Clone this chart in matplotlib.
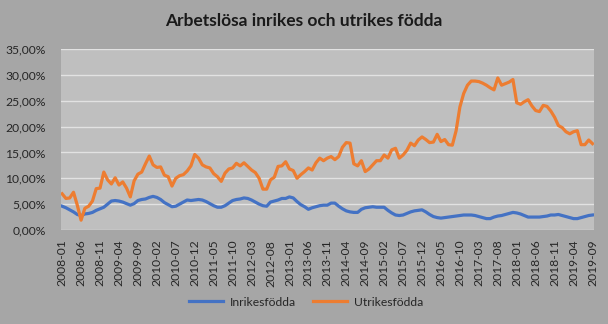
import matplotlib
matplotlib.use("Agg")
import matplotlib.pyplot as plt
import pandas as pd
from matplotlib.ticker import FuncFormatter

# monthly share unemployed (%), 2008-01 .. 2019-09
months = pd.period_range("2008-01", "2019-09", freq="M").strftime("%Y-%m").tolist()

inrikes = [
    4.6, 4.3, 3.9, 3.5, 3.0, 2.8, 3.1, 3.2, 3.4, 3.8, 4.1, 4.4, 5.0, 5.6, 5.7, 5.6, 5.4, 5.1, 4.8, 5.1,
    5.7, 5.9, 6.0, 6.3, 6.5, 6.3, 5.9, 5.3, 4.9, 4.5, 4.6, 5.0, 5.4, 5.8, 5.7, 5.8, 5.9, 5.8, 5.5, 5.1,
    4.7, 4.4, 4.4, 4.7, 5.2, 5.7, 5.9, 6.0, 6.2, 6.1, 5.8, 5.4, 5.0, 4.7, 4.6, 5.4, 5.6, 5.8, 6.1, 6.1,
    6.4, 6.2, 5.5, 4.9, 4.5, 4.0, 4.3, 4.5, 4.7, 4.8, 4.8, 5.2, 5.2, 4.6, 4.1, 3.7, 3.5, 3.4, 3.4, 4.0,
    4.3, 4.4, 4.5, 4.4, 4.4, 4.4, 3.8, 3.3, 2.9, 2.8, 2.9, 3.2, 3.5, 3.7, 3.8, 3.9, 3.5, 3.0, 2.6, 2.4,
    2.3, 2.4, 2.5, 2.6, 2.7, 2.8, 2.9, 2.9, 2.9, 2.8, 2.6, 2.4, 2.2, 2.2, 2.5, 2.7, 2.8, 3.0, 3.2, 3.4,
    3.3, 3.1, 2.8, 2.5, 2.5, 2.5, 2.5, 2.6, 2.7, 2.9, 2.9, 3.0, 2.8, 2.6, 2.4, 2.2, 2.2, 2.4, 2.6, 2.8,
    2.9,
]

utrikes = [
    7.0, 6.1, 6.2, 7.3, 4.8, 1.9, 4.2, 4.6, 5.6, 8.0, 8.1, 11.2, 9.7, 8.9, 10.1, 8.7, 9.3, 8.1, 6.4, 9.5,
    10.8, 11.2, 12.8, 14.3, 12.6, 12.1, 12.2, 10.6, 10.3, 8.5, 10.0, 10.5, 10.7, 11.4, 12.4, 14.6, 13.9, 12.6, 12.2, 12.0,
    10.9, 10.3, 9.4, 11.0, 11.8, 12.0, 12.9, 12.4, 13.0, 12.3, 11.6, 11.1, 10.0, 7.9, 7.9, 9.7, 10.2, 12.3, 12.4, 13.2,
    11.8, 11.5, 10.0, 10.7, 11.3, 12.0, 11.6, 13.0, 13.9, 13.4, 13.9, 14.2, 13.6, 14.2, 16.0, 16.9, 16.8, 12.8, 12.4, 13.4,
    11.3, 11.8, 12.6, 13.4, 13.4, 14.5, 13.9, 15.5, 15.8, 13.9, 14.5, 15.4, 16.8, 16.3, 17.4, 18.0, 17.5, 16.9, 17.0, 18.5,
    17.1, 17.5, 16.5, 16.4, 19.2, 23.8, 26.4, 28.0, 28.8, 28.8, 28.7, 28.4, 28.0, 27.5, 27.1, 29.4, 28.0, 28.3, 28.6, 29.1,
    24.6, 24.3, 24.8, 25.2, 24.0, 23.1, 22.9, 24.1, 23.9, 23.0, 21.8, 20.2, 19.8, 19.0, 18.6, 19.0, 19.2, 16.5, 16.5, 17.4,
    16.7,
]

plt.rcParams['font.family'] = ['Lato', 'DejaVu Sans']

fig = plt.figure(figsize=(6.08, 3.24), dpi=100, facecolor='#a6a6a6')
ax = fig.add_axes([61 / 608, 1 - 230 / 324, 533 / 608, 181 / 324])
ax.set_facecolor('#bfbfbf')

x = list(range(len(months)))
ax.plot(x, [v / 100 for v in inrikes], color='#4472c4', lw=2.3, label='Inrikesfödda')
ax.plot(x, [v / 100 for v in utrikes], color='#ed7d31', lw=2.3, label='Utrikesfödda')

ax.set_xlim(-0.3, len(months) - 0.6)
ax.set_ylim(0, 0.35)
ax.set_yticks([i * 0.05 for i in range(8)])
ax.yaxis.set_major_formatter(FuncFormatter(lambda v, p: f"{v * 100:.2f}%".replace('.', ',')))
ax.set_xticks(x[::5])
ax.set_xticklabels(months[::5], rotation=90)
ax.grid(axis='y', color='#e2e2e2', lw=1)
ax.set_axisbelow(True)
for s in ax.spines.values():
    s.set_visible(False)
ax.tick_params(axis='x', length=0, labelsize=8.7, colors='#262626', pad=7)
ax.tick_params(axis='y', length=0, labelsize=8.7, colors='#262626', pad=11)

fig.text(0.5, 1 - 21 / 324, 'Arbetslösa inrikes och utrikes födda', ha='center', va='center',
         fontsize=12.5, fontweight='bold', color='#1a1a1a')
fig.legend(loc='center', bbox_to_anchor=(306 / 608, 1 - 302 / 324), ncol=2, frameon=False,
           fontsize=8.7, handlelength=2.8, handletextpad=0.6, columnspacing=1.4,
           labelcolor='#262626')

fig.savefig('out.png', dpi=100, facecolor=fig.get_facecolor())
